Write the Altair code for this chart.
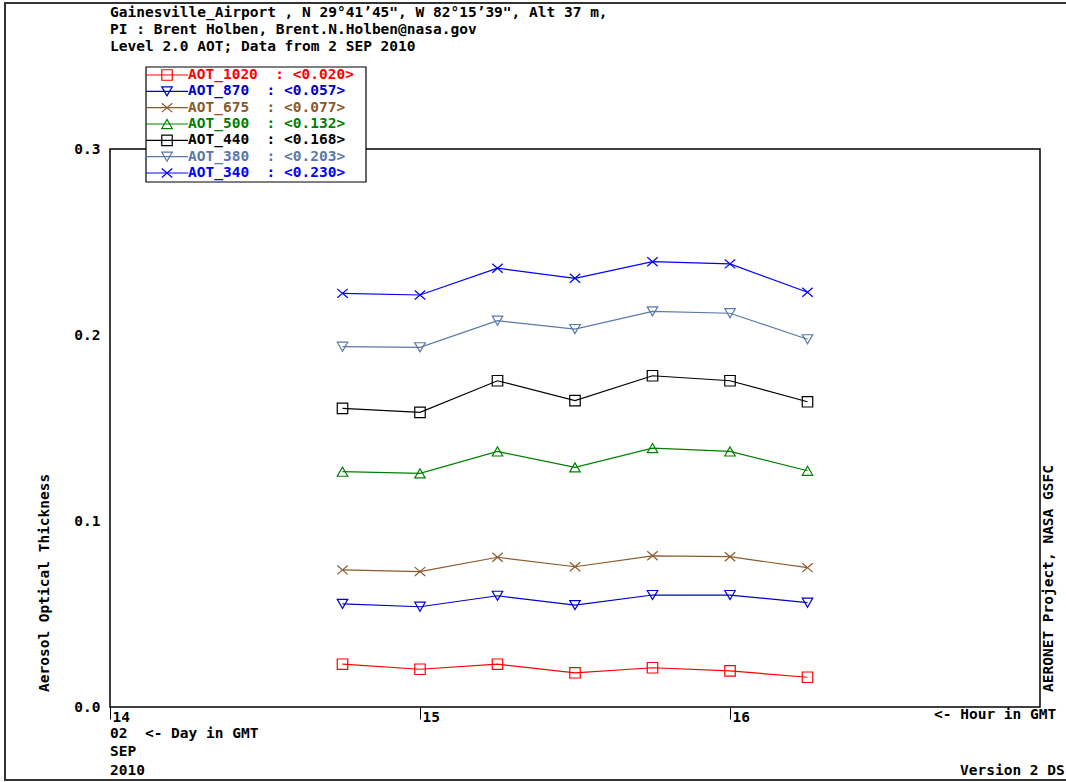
import altair as alt
import pandas as pd

FONT = "DejaVu Sans Mono"
FS = 14.5
NB = "\u00a0"

# ---- data ----
hours = [14.75, 15.0, 15.25, 15.5, 15.75, 16.0, 16.25]
series = ["AOT_1020", "AOT_870", "AOT_675", "AOT_500", "AOT_440", "AOT_380", "AOT_340"]
aot_1020 = [0.0230, 0.0203, 0.0230, 0.0184, 0.0211, 0.0194, 0.0160]
aot_870 = [0.0554, 0.0539, 0.0598, 0.0548, 0.0602, 0.0602, 0.0561]
aot_675 = [0.0737, 0.0728, 0.0805, 0.0754, 0.0813, 0.0808, 0.0749]
aot_500 = [0.1265, 0.1256, 0.1374, 0.1288, 0.1392, 0.1374, 0.1270]
aot_440 = [0.1606, 0.1584, 0.1754, 0.1647, 0.1781, 0.1754, 0.1641]
aot_380 = [0.1937, 0.1934, 0.2077, 0.2032, 0.2127, 0.2117, 0.1977]
aot_340 = [0.2224, 0.2215, 0.2359, 0.2305, 0.2394, 0.2382, 0.2230]
legend_means = ["0.020", "0.057", "0.077", "0.132", "0.168", "0.203", "0.230"]
y_ticks = [0.0, 0.1, 0.2, 0.3]
x_ticks = [14, 15, 16]

colors = ["#ff0000", "#0000cc", "#8b5a2b", "#008000", "#000000", "#5a78a8", "#0000ff"]
XPATH = "M-1,-0.85L1,0.85M-1,0.85L1,-0.85"
shapes = ["square", "triangle-down", XPATH, "triangle-up", "square", "triangle-down", XPATH]
sizes = [110, 110, 180, 110, 110, 110, 180]

all_vals = [aot_1020, aot_870, aot_675, aot_500, aot_440, aot_380, aot_340]
rows = []
for s, vals in zip(series, all_vals):
    for h, v in zip(hours, vals):
        rows.append({"series": s, "hour": h, "aot": v})
df = pd.DataFrame(rows)

leg = pd.DataFrame({
    "series": series,
    "row": list(range(len(series))),
    "label": [s + NB * 2 + ":" + NB + "<" + m + ">" for s, m in zip(series, legend_means)],
})
one = pd.DataFrame({"k": [0]})

color_scale = alt.Scale(domain=series, range=colors)
shape_scale = alt.Scale(domain=series, range=shapes)
size_scale = alt.Scale(domain=series, range=sizes)

x_enc = alt.X(
    "hour:Q",
    scale=alt.Scale(domain=[14, 17], nice=False, zero=False),
    axis=alt.Axis(
        values=x_ticks, format="d", title=None, grid=False, domain=False,
        ticks=True, tickSize=12, tickColor="black", tickWidth=1,
        labelAlign="left", labelBaseline="top", labelPadding=-9, labelOffset=2,
        labelFont=FONT, labelFontSize=FS, labelFontWeight="bold", labelColor="black",
        labelFlush=False, labelOverlap=False,
    ),
)
y_enc = alt.Y(
    "aot:Q",
    scale=alt.Scale(domain=[0, 0.3], nice=False),
    axis=alt.Axis(
        values=y_ticks, format=".1f", title=None, grid=False, domain=False,
        ticks=False, labelPadding=10, labelBaseline="middle",
        labelFont=FONT, labelFontSize=FS, labelFontWeight="bold", labelColor="black",
        labelFlush=False, labelOverlap=False,
    ),
)

lines = alt.Chart(df).mark_line(strokeWidth=1.2).encode(
    x=x_enc, y=y_enc,
    color=alt.Color("series:N", scale=color_scale, legend=None),
)
points = alt.Chart(df).mark_point(filled=False, strokeWidth=1.2, opacity=1).encode(
    x=alt.X("hour:Q"), y=alt.Y("aot:Q"),
    color=alt.Color("series:N", scale=color_scale, legend=None),
    shape=alt.Shape("series:N", scale=shape_scale, legend=None),
    size=alt.Size("series:N", scale=size_scale, legend=None),
)
main = alt.layer(lines, points)

# plot frame and outer border
frame = alt.Chart(one).mark_rect(fillOpacity=0, stroke="black", strokeWidth=1.5).encode(
    x=alt.value(0), x2=alt.value(930), y=alt.value(0), y2=alt.value(558)
)
border = alt.Chart(one).mark_rect(fillOpacity=0, stroke="#333333", strokeWidth=2).encode(
    x=alt.value(-105), x2=alt.value(965), y=alt.value(-146), y2=alt.value(631)
)

# custom legend
ly = alt.Y("row:Q", scale=alt.Scale(domain=[0, 6], range=[-74, 24]), axis=None)
lcolor = alt.Color("series:N", scale=color_scale, legend=None)
lbox = alt.Chart(one).mark_rect(fill="white", stroke="black", strokeWidth=1.2).encode(
    x=alt.value(36), x2=alt.value(256), y=alt.value(-82), y2=alt.value(33)
)
lrule = alt.Chart(leg).mark_rule(strokeWidth=1.2).encode(
    x=alt.value(36), x2=alt.value(78), y=ly, color=lcolor
)
lpts = alt.Chart(leg).mark_point(filled=False, strokeWidth=1.2, opacity=1).encode(
    x=alt.value(57), y=ly, color=lcolor,
    shape=alt.Shape("series:N", scale=shape_scale, legend=None),
    size=alt.Size("series:N", scale=size_scale, legend=None),
)
ltext = alt.Chart(leg).mark_text(
    align="left", baseline="middle", font=FONT, fontSize=FS, fontWeight="bold"
).encode(x=alt.value(78), y=ly, text="label:N", color=lcolor)
legend = alt.layer(lbox, lrule, lpts, ltext)


def label(text, x, y, angle=0, align="left"):
    return alt.Chart(one).mark_text(
        text=text.replace(" ", NB), align=align, baseline="middle", angle=angle,
        font=FONT, fontSize=FS, fontWeight="bold", color="black",
    ).encode(x=alt.value(x), y=alt.value(y))


annotations = [
    label("Gainesville_Airport , N 29°41’45\", W 82°15’39\", Alt 37 m,", 0, -136.5),
    label("PI : Brent Holben, Brent.N.Holben@nasa.gov", 0, -119.5),
    label("Level 2.0 AOT; Data from 2 SEP 2010", 0, -102.5),
    label("Aerosol Optical Thickness", -65, 543, angle=270),
    label("AERONET Project, NASA GSFC", 939, 543, angle=270),
    label("02  <- Day in GMT", 0, 585),
    label("SEP", 0, 603),
    label("2010", 0, 622),
    label("<- Hour in GMT", 824, 566),
    label("Version 2 DS", 850, 622),
]

chart = alt.layer(border, frame, main, legend, *annotations).resolve_scale(
    y="independent"
).properties(
    width=930, height=558,
    autosize=alt.AutoSizeParams(type="none"),
    padding={"left": 110, "top": 149, "right": 26, "bottom": 75},
    background="white",
).configure_view(strokeWidth=0)

chart.save("out.html", embed_options={"renderer": "svg", "actions": False})
